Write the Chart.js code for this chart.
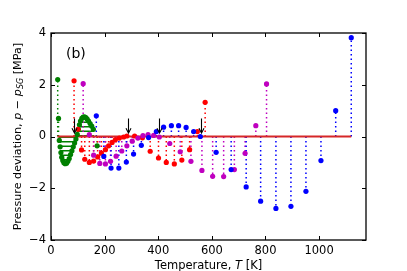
<!DOCTYPE html>
<html>
<head>
<meta charset="utf-8">
<script src="https://cdn.jsdelivr.net/npm/chart.js@4/dist/chart.umd.min.js"></script>
<style>
html, body { margin: 0; padding: 0; background: #fff; }
</style>
</head>
<body>
<canvas id="chart" width="407" height="271"></canvas>
<script>
// temperatures [K] and pressure deviations [MPa] per data set
var greenT = [25, 28, 31, 34, 37, 40, 44, 48, 53, 58, 63, 68, 73, 78, 83, 88, 93, 98, 102, 106, 110, 115, 120, 125, 130, 135, 140, 146, 152, 158, 172];
var greenP = [2.2, 0.7, -0.15, -0.4, -0.62, -0.8, -0.93, -1.01, -1.05, -1.03, -0.96, -0.85, -0.7, -0.55, -0.4, -0.25, -0.1, 0.08, 0.28, 0.45, 0.6, 0.7, 0.75, 0.76, 0.73, 0.67, 0.6, 0.5, 0.4, 0.28, -0.36];

var redT = [86, 101, 114, 126, 143, 159, 174, 188, 203, 215, 228, 240, 255, 271, 283, 312, 341, 370, 401, 430, 460, 488, 517, 546, 575];
var redP = [2.15, 0.28, -0.52, -0.88, -1.0, -0.95, -0.79, -0.64, -0.51, -0.36, -0.23, -0.13, -0.06, -0.02, 0.02, 0.02, -0.05, -0.57, -0.83, -1.0, -1.06, -0.91, -0.51, 0.19, 1.32];

var magT = [120, 143, 159, 182, 203, 222, 243, 264, 283, 303, 324, 343, 362, 383, 404, 443, 482, 522, 563, 603, 644, 684, 724, 764, 804];
var magP = [2.04, 0.07, -0.72, -1.04, -1.06, -0.96, -0.76, -0.56, -0.36, -0.18, -0.06, 0.03, 0.07, 0.04, -0.02, -0.27, -0.59, -0.96, -1.31, -1.54, -1.55, -1.28, -0.65, 0.42, 2.03];

var blueT = [169, 197, 224, 253, 281, 308, 337, 364, 393, 420, 449, 476, 504, 532, 557, 616, 672, 728, 782, 839, 895, 951, 1007, 1062, 1120];
var blueP = [0.8, -0.77, -1.22, -1.22, -0.99, -0.68, -0.34, -0.04, 0.19, 0.36, 0.42, 0.42, 0.35, 0.19, 0.0, -0.61, -1.28, -1.95, -2.5, -2.78, -2.7, -2.12, -0.93, 1.0, 3.82];

var zeroT = [24, 1120];
var arrowT = [86, 287, 401, 560];
var xTicks = [0, 200, 400, 600, 800, 1000];
var yTicks = [-4, -2, 0, 2, 4];

Chart.defaults.font.family = "DejaVu Sans";
Chart.defaults.font.size = 11.5;
Chart.defaults.color = "#000";

function points(ts, vs) {
    var d = [];
    for (var i = 0; i < ts.length; i++) d.push({x: ts[i], y: vs[i]});
    return d;
}

// each stem goes from 0 to the value, a null breaks the line
function stems(ts, vs) {
    var d = [];
    for (var i = 0; i < ts.length; i++) {
        d.push({x: ts[i], y: 0}, {x: ts[i], y: vs[i]}, {x: ts[i], y: null});
    }
    return d;
}

function stemSet(ts, vs, col, ord) {
    return {data: stems(ts, vs), showLine: true, spanGaps: false, borderColor: col,
        borderWidth: 1.5, borderDash: [1.5, 3], pointRadius: 0, order: ord};
}

function markSet(ts, vs, col, ord) {
    return {data: points(ts, vs), showLine: false, pointRadius: 2.6, pointBorderWidth: 0,
        pointBackgroundColor: col, borderColor: col, order: ord};
}

var frame = {
    id: 'frame',
    afterDatasetsDraw: function(chart) {
        var ctx = chart.ctx, a = chart.chartArea;
        var xs = chart.scales.x, ys = chart.scales.y;
        ctx.save();
        // arrows
        ctx.strokeStyle = '#000';
        ctx.lineWidth = 1.1;
        arrowT.forEach(function(t) {
            var x = Math.round(xs.getPixelForValue(t)) + 0.5;
            var y1 = ys.getPixelForValue(0.7), y2 = ys.getPixelForValue(0.13);
            ctx.beginPath();
            ctx.moveTo(x, y1);
            ctx.lineTo(x, y2);
            ctx.moveTo(x - 2.5, y2 - 5);
            ctx.lineTo(x, y2);
            ctx.lineTo(x + 2.5, y2 - 5);
            ctx.stroke();
        });
        // box and inward ticks
        ctx.lineWidth = 1.3;
        ctx.strokeRect(a.left, a.top, a.right - a.left, a.bottom - a.top);
        ctx.lineWidth = 1;
        ctx.beginPath();
        xTicks.forEach(function(v) {
            var x = Math.round(xs.getPixelForValue(v)) + 0.5;
            ctx.moveTo(x, a.bottom); ctx.lineTo(x, a.bottom - 4);
            ctx.moveTo(x, a.top); ctx.lineTo(x, a.top + 4);
        });
        yTicks.forEach(function(v) {
            var y = Math.round(ys.getPixelForValue(v)) + 0.5;
            ctx.moveTo(a.left, y); ctx.lineTo(a.left + 4, y);
            ctx.moveTo(a.right, y); ctx.lineTo(a.right - 4, y);
        });
        ctx.stroke();

        ctx.fillStyle = '#000';
        ctx.textBaseline = 'alphabetic';
        ctx.font = '14px "DejaVu Sans"';
        ctx.fillText('(b)', 66, 58);

        // x title
        var parts = [['Temperature, ', 'normal', 0], ['T', 'italic', 0], [' [K]', 'normal', 0]];
        var w = 0;
        parts.forEach(function(p) { ctx.font = p[1] + ' 11.5px "DejaVu Sans"'; w += ctx.measureText(p[0]).width; });
        var cx = (a.left + a.right) / 2 - w / 2;
        parts.forEach(function(p) {
            ctx.font = p[1] + ' 11.5px "DejaVu Sans"';
            ctx.fillText(p[0], cx, 269);
            cx += ctx.measureText(p[0]).width;
        });

        // y title, rotated, with subscript
        var yp = [['Pressure deviation, ', 'normal', 11.2, 0], ['p', 'italic', 11.2, 0], [' \u2212 ', 'normal', 11.2, 0],
            ['p', 'italic', 11.2, 0], ['SG', 'italic', 8, 2.5], [' [MPa]', 'normal', 11.2, 0]];
        w = 0;
        yp.forEach(function(p) { ctx.font = p[1] + ' ' + p[2] + 'px "DejaVu Sans"'; w += ctx.measureText(p[0]).width; });
        ctx.translate(16.5, (a.top + a.bottom) / 2);
        ctx.rotate(-Math.PI / 2);
        cx = -w / 2;
        yp.forEach(function(p) {
            ctx.font = p[1] + ' ' + p[2] + 'px "DejaVu Sans"';
            ctx.fillText(p[0], cx, 4 + p[3]);
            cx += ctx.measureText(p[0]).width;
        });
        ctx.restore();
    }
};

var ctx = document.getElementById('chart').getContext('2d');
var myChart = new Chart(ctx, {
    type: 'scatter',
    data: {
        datasets: [
            markSet(greenT, greenP, '#008000', 4),
            markSet(redT, redP, '#ff0000', 3),
            markSet(magT, magP, '#bf00bf', 2),
            markSet(blueT, blueP, '#0000ff', 1),
            {data: points(zeroT, [0, 0]), showLine: true, borderColor: '#d62728', borderWidth: 1.8, pointRadius: 0, order: 5},
            stemSet(greenT, greenP, '#008000', 9),
            stemSet(redT, redP, '#ff0000', 8),
            stemSet(magT, magP, '#bf00bf', 7),
            stemSet(blueT, blueP, '#0000ff', 6)
        ]
    },
    options: {
        responsive: false,
        animation: false,
        events: [],
        layout: {padding: {top: 33, right: 41, left: 0, bottom: 0}},
        plugins: {legend: {display: false}, tooltip: {enabled: false}},
        scales: {
            x: {
                type: 'linear', min: 0, max: 1175,
                afterFit: function(s) { s.height = 31; },
                afterBuildTicks: function(s) { s.ticks = xTicks.map(function(v) { return {value: v}; }); },
                grid: {display: false, drawTicks: false},
                border: {display: false},
                ticks: {padding: 4, maxRotation: 0, callback: function(v) { return String(v); }}
            },
            y: {
                min: -4, max: 4,
                afterFit: function(s) { s.width = 51; },
                afterBuildTicks: function(s) { s.ticks = yTicks.map(function(v) { return {value: v}; }); },
                grid: {display: false, drawTicks: false},
                border: {display: false},
                ticks: {padding: 5, callback: function(v) { return String(v).replace('-', '\u2212'); }}
            }
        }
    },
    plugins: [frame]
});
</script>
</body>
</html>
